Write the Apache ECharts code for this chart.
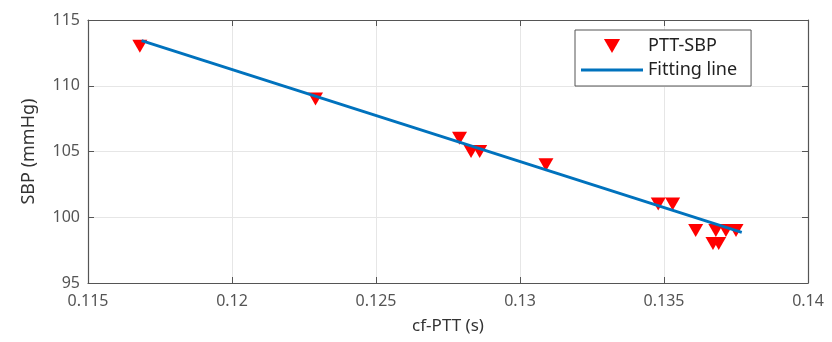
<!DOCTYPE html>
<html>
<head>
<meta charset="utf-8">
<script src="https://cdn.jsdelivr.net/npm/echarts@6/dist/echarts.min.js"></script>
<style>
  html, body { margin: 0; padding: 0; background: #fff; }
  #chart { width: 832px; height: 342px; }
</style>
</head>
<body>
<div id="chart"></div>
<script>
// measured points (cf-PTT in s, SBP in mmHg)
var pttValues = [0.1168, 0.1229, 0.1279, 0.1283, 0.1286, 0.1309, 0.1348, 0.1353, 0.1361,
                 0.1368, 0.13715, 0.1375, 0.1367, 0.1369];
var sbpValues = [113, 109, 106, 105, 105, 104, 101, 101, 99, 99, 99, 99, 98, 98];
// fitting line end points
var fitX = [0.11686, 0.1377];
var fitY = [113.43, 98.85];
var xTicks = [0.115, 0.12, 0.125, 0.13, 0.135, 0.14];
var yTicks = [95, 100, 105, 110, 115];

var chart = echarts.init(document.getElementById('chart'));

var points = pttValues.map(function (x, i) { return [x, sbpValues[i]]; });
var fitLine = fitX.map(function (x, i) { return [x, fitY[i]]; });

var font = 'Noto Sans';
var axisCol = '#555';

function tickLabel(v) {
  return String(parseFloat(v.toFixed(4)));
}

var option = {
  animation: false,
  textStyle: { fontFamily: font },
  grid: { left: 88, right: 24, top: 20, bottom: 59 },
  xAxis: [{
    type: 'value',
    min: xTicks[0], max: xTicks[xTicks.length - 1], interval: 0.005,
    name: 'cf-PTT (s)', nameLocation: 'middle', nameGap: 35,
    nameTextStyle: { color: '#333', fontSize: 17, fontFamily: font },
    axisLine: { lineStyle: { color: axisCol, width: 1.2 } },
    axisTick: { inside: true, length: 6, lineStyle: { color: axisCol } },
    axisLabel: { color: axisCol, fontSize: 16, margin: 10, formatter: tickLabel },
    splitLine: { show: true, lineStyle: { color: '#e6e6e6' } }
  }, {
    type: 'value', position: 'top',
    min: xTicks[0], max: xTicks[xTicks.length - 1], interval: 0.005,
    axisLine: { show: true, lineStyle: { color: axisCol, width: 1.2 } },
    axisTick: { inside: true, length: 6, lineStyle: { color: axisCol } },
    axisLabel: { show: false }, splitLine: { show: false }
  }],
  yAxis: [{
    type: 'value',
    min: yTicks[0], max: yTicks[yTicks.length - 1], interval: 5,
    name: 'SBP (mmHg)', nameLocation: 'middle', nameGap: 50,
    nameTextStyle: { color: '#333', fontSize: 18, fontFamily: font },
    axisLine: { show: true, lineStyle: { color: axisCol, width: 1.2 } },
    axisTick: { show: true, inside: true, length: 6, lineStyle: { color: axisCol } },
    axisLabel: { color: axisCol, fontSize: 16, margin: 8 },
    splitLine: { show: true, lineStyle: { color: '#e6e6e6' } }
  }, {
    type: 'value', position: 'right',
    min: yTicks[0], max: yTicks[yTicks.length - 1], interval: 5,
    axisLine: { show: true, lineStyle: { color: axisCol, width: 1.2 } },
    axisTick: { show: true, inside: true, length: 6, lineStyle: { color: axisCol } },
    axisLabel: { show: false }, splitLine: { show: false }
  }],
  legend: {
    orient: 'vertical',
    left: 575, top: 30,
    padding: [7, 14, 7, 6],
    itemGap: 6,
    itemWidth: 62, itemHeight: 14,
    symbolKeepAspect: true,
    symbolRotate: 0,
    borderColor: '#555', borderWidth: 1,
    backgroundColor: '#fff',
    textStyle: { color: '#222', fontSize: 18, fontFamily: font },
    data: [
      { name: 'PTT-SBP', icon: 'path://M0,0 L15,0 L7.5,13 Z', itemStyle: { color: '#ff0000' } },
      { name: 'Fitting line', icon: 'path://M0,0 L62,0 L62,3 L0,3 Z', itemStyle: { color: '#0072bd' } }
    ]
  },
  series: [{
    name: 'PTT-SBP',
    type: 'scatter',
    data: points,
    symbol: 'triangle',
    symbolRotate: 180,
    symbolSize: [15, 13],
    itemStyle: { color: '#ff0000', opacity: 1 },
    z: 2
  }, {
    name: 'Fitting line',
    type: 'line',
    data: fitLine,
    symbol: 'none',
    lineStyle: { color: '#0072bd', width: 3 },
    itemStyle: { color: '#0072bd' },
    z: 3
  }]
};

chart.setOption(option);
</script>
</body>
</html>
